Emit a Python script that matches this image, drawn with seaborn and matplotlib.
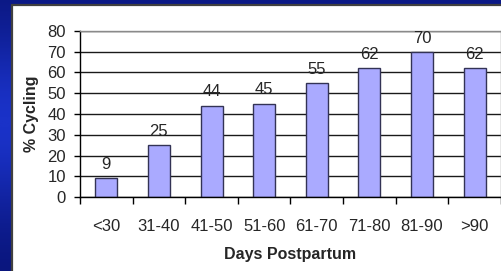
import numpy as np
import matplotlib
matplotlib.use("Agg")
import matplotlib.pyplot as plt
import seaborn as sns
from matplotlib.patches import Rectangle
from matplotlib.lines import Line2D

# data
kategori = ["<30", "31-40", "41-50", "51-60", "61-70", "71-80", "81-90", ">90"]
persen_cycling = [9, 25, 44, 45, 55, 62, 70, 62]

sns.set_style("white")
plt.rcParams['font.family'] = ['Liberation Sans', 'DejaVu Sans']

W, H = 502, 271
fig = plt.figure(figsize=(W / 100, H / 100), dpi=100)

# background blue gradient
bg = fig.add_axes([0, 0, 1, 1])
bg.set_axis_off()
t = np.linspace(0, 1, 200)
grad = np.exp(-((t - 0.45) / 0.35) ** 2)
grad = np.tile(grad[:, None], (1, 10))
cmap = matplotlib.colors.LinearSegmentedColormap.from_list("bl", ["#0a167e", "#1a32c8"])
bg.imshow(grad, aspect="auto", cmap=cmap, extent=[0, W, H, 0])
bg.set_xlim(0, W)
bg.set_ylim(H, 0)
# white panel with dark edge
bg.add_patch(Rectangle((13, 6), W - 13, H - 6, facecolor="white", edgecolor="none"))
bg.add_line(Line2D([12.5, 12.5], [5, H], color="#404040", lw=1.6))
bg.add_line(Line2D([12, W], [5.3, 5.3], color="#404040", lw=1.6))

ax = fig.add_axes([80 / W, (H - 197) / H, (501 - 80) / W, (197 - 31) / H])
sns.barplot(x=kategori, y=persen_cycling, color="#aaaaff", edgecolor="#333355",
            linewidth=1, width=0.42, saturation=1, ax=ax)
ax.set_ylim(0, 80)
ax.set_xlim(-0.5, 7.5)
ax.set_yticks(range(0, 81, 10))
ax.yaxis.grid(True, color="#1a1a1a", lw=1)
ax.set_axisbelow(True)
for s in ["left", "bottom"]:
    ax.spines[s].set_color("black")
    ax.spines[s].set_linewidth(1)
for s in ["top", "right"]:
    ax.spines[s].set_color("#8a8a8a")
    ax.spines[s].set_linewidth(1)

ax.set_xticks(np.arange(-0.5, 8, 1), minor=True)
ax.tick_params(axis="x", which="major", length=0, pad=16, labelsize=12)
ax.tick_params(axis="x", which="minor", length=5, width=1, color="black", direction="out")
ax.tick_params(axis="y", length=4, width=1, color="black", direction="out", labelsize=12, pad=6)
ax.tick_params(bottom=True, left=True, which="both")

for i, v in enumerate(persen_cycling):
    ax.text(i, v + 3, str(v), ha="center", va="bottom", fontsize=12)

ax.set_xlabel("Days Postpartum", fontsize=11.5, fontweight="bold", labelpad=9)
ax.set_ylabel("% Cycling", fontsize=11.5, fontweight="bold", labelpad=6)

fig.savefig("out.png", dpi=100)
